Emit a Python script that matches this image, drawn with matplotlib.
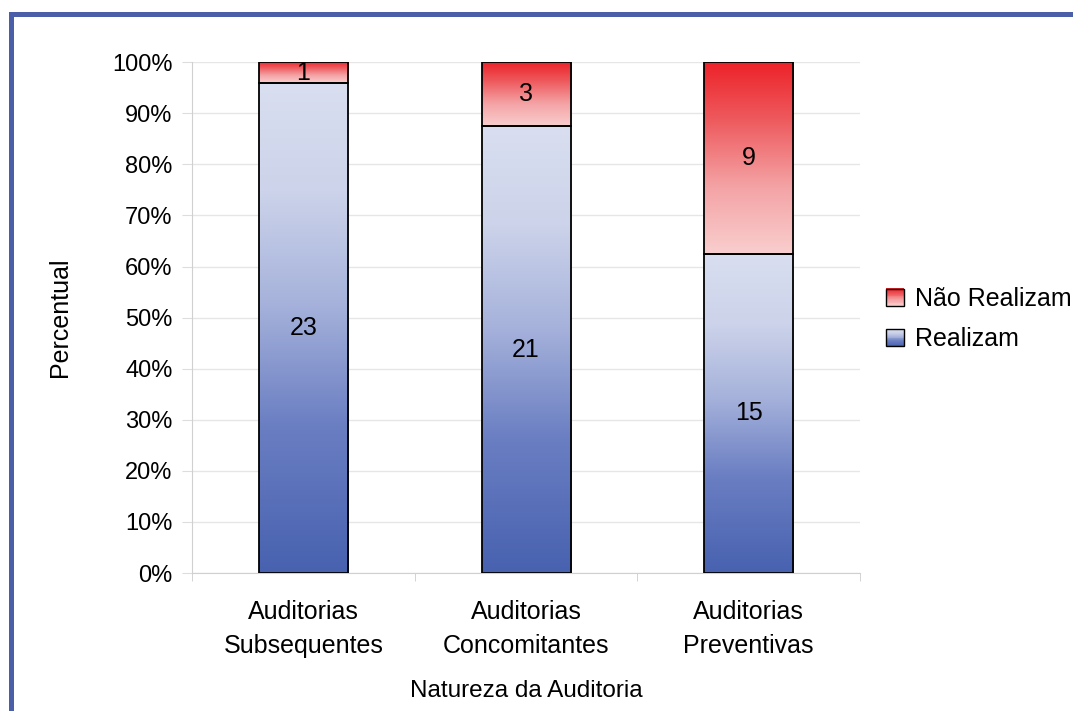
import numpy as np
import matplotlib.pyplot as plt
from matplotlib.colors import LinearSegmentedColormap
from matplotlib.patches import Rectangle
from matplotlib.legend_handler import HandlerBase

plt.rcParams['font.family'] = ['Liberation Sans', 'DejaVu Sans']

# dados
categorias = ['Auditorias\nSubsequentes', 'Auditorias\nConcomitantes', 'Auditorias\nPreventivas']
realizam = [23, 21, 15]
nao_realizam = [1, 3, 9]
series = ['Não Realizam', 'Realizam']

total = np.array(realizam) + np.array(nao_realizam)
pct_r = np.array(realizam) / total
pct_n = np.array(nao_realizam) / total

cmap_azul = LinearSegmentedColormap.from_list(
    'azul', [(0, '#4862b0'), (0.3, '#6a7ec2'), (0.55, '#a6b2db'),
             (0.78, '#ccd3ea'), (1, '#d9dff0')])
cmap_verm = LinearSegmentedColormap.from_list(
    'verm', [(0, '#f9cece'), (0.35, '#f4a3a5'), (0.7, '#ee5a5e'), (1, '#ec2329')])
grad = np.linspace(0, 1, 256).reshape(-1, 1)

fs = 18


class HandlerGrad(HandlerBase):
    def __init__(self, cmap):
        super().__init__()
        self.cmap = cmap

    def create_artists(self, legend, orig_handle, xdescent, ydescent,
                       width, height, fontsize, trans):
        s = height
        x0 = -xdescent + (width - s) / 2
        y0 = -ydescent
        n = 20
        arts = []
        for i in range(n):
            r = Rectangle((x0, y0 + s * i / n), s, s / n + 0.2,
                          facecolor=self.cmap(i / (n - 1)), edgecolor='none',
                          transform=trans)
            arts.append(r)
        arts.append(Rectangle((x0, y0), s, s, facecolor='none', edgecolor='black',
                              lw=1.0, transform=trans))
        return arts


fig = plt.figure(figsize=(10.73, 7.11), dpi=100)
ax = fig.add_axes([0.179, 0.194, 0.6225, 0.7185])

x = np.arange(len(categorias))
w = 0.4

bars_r = ax.bar(x, pct_r, width=w, facecolor='none', edgecolor='black', lw=1.3, zorder=3)
bars_n = ax.bar(x, pct_n, width=w, bottom=pct_r, facecolor='none', edgecolor='black',
                lw=1.3, zorder=3)

for bars, cmap in [(bars_r, cmap_azul), (bars_n, cmap_verm)]:
    for b in bars:
        bx, by = b.get_x(), b.get_y()
        im = ax.imshow(grad, cmap=cmap, origin='lower', aspect='auto',
                       extent=[bx, bx + b.get_width(), by, by + b.get_height()],
                       zorder=2)
        im.set_clip_path(b)

for i in range(len(x)):
    ax.text(x[i], pct_r[i] / 2, str(realizam[i]), ha='center', va='center',
            fontsize=fs, zorder=4)
    ax.text(x[i], pct_r[i] + pct_n[i] / 2, str(nao_realizam[i]), ha='center',
            va='center', fontsize=fs, zorder=4)

ax.set_xlim(-0.5, 2.5)
ax.set_ylim(0, 1)
ax.set_yticks(np.arange(0, 1.01, 0.1))
ax.set_yticklabels([f'{int(round(v * 100))}%' for v in np.arange(0, 1.01, 0.1)])
ax.set_xticks(x)
ax.set_xticklabels(categorias)
ax.set_xticks([-0.5, 0.5, 1.5, 2.5], minor=True)
ax.tick_params(axis='x', which='major', length=0, pad=19.5, labelsize=fs)
ax.tick_params(axis='x', which='minor', length=6, color='#cccccc')
ax.tick_params(axis='y', length=7, color='#dddddd', labelsize=17, pad=7)
for t in ax.get_xticklabels():
    t.set_linespacing(1.5)
ax.grid(axis='y', color='#e6e6e6', lw=1, zorder=0)
ax.set_axisbelow(True)
for s in ['top', 'right']:
    ax.spines[s].set_visible(False)
for s in ['left', 'bottom']:
    ax.spines[s].set_color('#d0d0d0')

ax.set_xlabel('Natureza da Auditoria', fontsize=17.5, labelpad=16)
ax.set_ylabel('Percentual', fontsize=fs, labelpad=29)

h1 = Rectangle((0, 0), 1, 1)
h2 = Rectangle((0, 0), 1, 1)
fig.legend([h1, h2], series, loc='center left', bbox_to_anchor=(0.805, 0.551),
           frameon=False, fontsize=fs, handlelength=0.7, handleheight=0.7,
           handletextpad=0.45, labelspacing=0.65,
           handler_map={h1: HandlerGrad(cmap_verm), h2: HandlerGrad(cmap_azul)})

# moldura azul
topo = 1 - 13.5 / 711
fig.patches.append(Rectangle((10.5 / 1073, -0.5), 1.5, topo + 0.5,
                             transform=fig.transFigure, facecolor='none',
                             edgecolor='#4a5fa8', lw=3.6, zorder=0))

fig.savefig('out.png', dpi=100)
